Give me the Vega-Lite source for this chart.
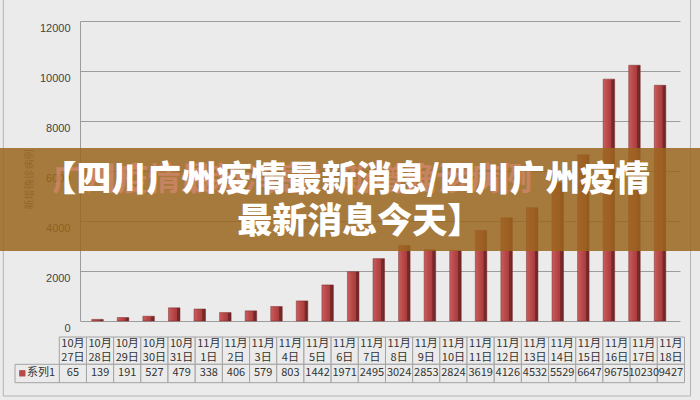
{
  "$schema": "https://vega.github.io/schema/vega-lite/v6.json",
  "autosize": "none",
  "width": 600,
  "height": 300,
  "padding": {"left": 80, "top": 21, "right": 20, "bottom": 79},
  "background": "#ebebeb",
  "config": {"view": {"stroke": null}, "font": "Noto Sans CJK SC"},
  "data": {"values": [
    {"date": "10月27日", "month": "10月", "day": "27日", "value": 65},
    {"date": "10月28日", "month": "10月", "day": "28日", "value": 139},
    {"date": "10月29日", "month": "10月", "day": "29日", "value": 191},
    {"date": "10月30日", "month": "10月", "day": "30日", "value": 527},
    {"date": "10月31日", "month": "10月", "day": "31日", "value": 479},
    {"date": "11月1日", "month": "11月", "day": "1日", "value": 338},
    {"date": "11月2日", "month": "11月", "day": "2日", "value": 406},
    {"date": "11月3日", "month": "11月", "day": "3日", "value": 579},
    {"date": "11月4日", "month": "11月", "day": "4日", "value": 803},
    {"date": "11月5日", "month": "11月", "day": "5日", "value": 1442},
    {"date": "11月6日", "month": "11月", "day": "6日", "value": 1971},
    {"date": "11月7日", "month": "11月", "day": "7日", "value": 2495},
    {"date": "11月8日", "month": "11月", "day": "8日", "value": 3024},
    {"date": "11月9日", "month": "11月", "day": "9日", "value": 2853},
    {"date": "11月10日", "month": "11月", "day": "10日", "value": 2824},
    {"date": "11月11日", "month": "11月", "day": "11日", "value": 3619},
    {"date": "11月12日", "month": "11月", "day": "12日", "value": 4126},
    {"date": "11月13日", "month": "11月", "day": "13日", "value": 4532},
    {"date": "11月14日", "month": "11月", "day": "14日", "value": 5529},
    {"date": "11月15日", "month": "11月", "day": "15日", "value": 6647},
    {"date": "11月16日", "month": "11月", "day": "16日", "value": 9675},
    {"date": "11月17日", "month": "11月", "day": "17日", "value": 10230},
    {"date": "11月18日", "month": "11月", "day": "18日", "value": 9427}
  ]},
  "resolve": {"scale": {"x": "independent"}},
  "layer": [
    {
      "mark": {
        "type": "bar",
        "fill": {"gradient": "linear", "x1": 0, "y1": 0, "x2": 1, "y2": 0, "stops": [
          {"offset": 0, "color": "#c95f5e"},
          {"offset": 0.35, "color": "#bb4a4a"},
          {"offset": 0.7, "color": "#a93d3e"},
          {"offset": 0.73, "color": "#7e2b2c"},
          {"offset": 1, "color": "#6c2425"}
        ]},
        "stroke": "#7a2a2b",
        "strokeWidth": 0.5
      },
      "encoding": {
        "x": {"field": "date", "type": "nominal", "sort": null, "axis": null,
          "scale": {"domain": ["10月27日","10月28日","10月29日","10月30日","10月31日","11月1日","11月2日","11月3日","11月4日","11月5日","11月6日","11月7日","11月8日","11月9日","11月10日","11月11日","11月12日","11月13日","11月14日","11月15日","11月16日","11月17日","11月18日"],
            "paddingInner": 0.55, "paddingOuter": 0.5075, "align": 0.453, "round": false}},
        "y": {"field": "value", "type": "quantitative",
          "scale": {"domain": [0, 12000], "nice": false, "zero": false},
          "axis": {"values": [0, 2000, 4000, 6000, 8000, 10000, 12000], "format": "d",
            "grid": true, "gridColor": "#9c9c9c", "gridWidth": 1,
            "domain": true, "domainColor": "#9c9c9c", "domainWidth": 1,
            "ticks": false, "labelPadding": 10, "labelOffset": 7,
            "labelFont": "Liberation Sans", "labelFontSize": 11, "labelColor": "#444444",
            "title": "新增确诊病例", "titleFont": "Noto Sans CJK SC", "titleFontSize": 10,
            "titleFontWeight": "normal", "titleColor": "#6b6b6b",
            "titleX": -51, "titleY": 158, "titleAlign": "center", "titleBaseline": "middle", "titleAngle": -90}}
      }
    },
    {
      "layer": [
        {
          "data": {"values": [{}]},
          "mark": {"type": "rect", "fill": "#ebebeb", "fillOpacity": 0, "stroke": "#b3b3b3", "strokeWidth": 1, "xOffset": -56, "x2Offset": 6},
          "encoding": {
            "x": {"datum": "10月27日", "type": "nominal", "bandPosition": 0, "axis": null,
              "scale": {"domain": ["10月27日","10月28日","10月29日","10月30日","10月31日","11月1日","11月2日","11月3日","11月4日","11月5日","11月6日","11月7日","11月8日","11月9日","11月10日","11月11日","11月12日","11月13日","11月14日","11月15日","11月16日","11月17日","11月18日"], "range": [-20.7, 604.5], "paddingInner": 0, "paddingOuter": 0, "round": false}},
            "x2": {"datum": "11月18日", "bandPosition": 1},
            "y": {"datum": 13040, "type": "quantitative"},
            "y2": {"datum": -3000}
          }
        },
        {
          "mark": {"type": "rect", "fill": "#ebebeb", "stroke": "#a3a3a3", "strokeWidth": 1},
          "encoding": {
            "x": {"field": "date", "type": "nominal", "sort": null, "axis": null,
              "scale": {"domain": ["10月27日","10月28日","10月29日","10月30日","10月31日","11月1日","11月2日","11月3日","11月4日","11月5日","11月6日","11月7日","11月8日","11月9日","11月10日","11月11日","11月12日","11月13日","11月14日","11月15日","11月16日","11月17日","11月18日"], "range": [-20.7, 604.5], "paddingInner": 0, "paddingOuter": 0, "round": false}},
            "y": {"datum": -640, "type": "quantitative"},
            "y2": {"datum": -1732}
          }
        },
        {
          "mark": {"type": "rect", "fill": "#ebebeb", "stroke": "#a3a3a3", "strokeWidth": 1},
          "encoding": {
            "x": {"field": "date", "type": "nominal", "sort": null, "axis": null,
              "scale": {"domain": ["10月27日","10月28日","10月29日","10月30日","10月31日","11月1日","11月2日","11月3日","11月4日","11月5日","11月6日","11月7日","11月8日","11月9日","11月10日","11月11日","11月12日","11月13日","11月14日","11月15日","11月16日","11月17日","11月18日"], "range": [-20.7, 604.5], "paddingInner": 0, "paddingOuter": 0, "round": false}},
            "y": {"datum": -1732, "type": "quantitative"},
            "y2": {"datum": -2468}
          }
        },
        {
          "data": {"values": [{}]},
          "mark": {"type": "rect", "fill": "#ebebeb", "stroke": "#a3a3a3", "strokeWidth": 1, "xOffset": -44.3},
          "encoding": {
            "x": {"datum": "10月27日", "type": "nominal", "bandPosition": 0, "axis": null,
              "scale": {"domain": ["10月27日","10月28日","10月29日","10月30日","10月31日","11月1日","11月2日","11月3日","11月4日","11月5日","11月6日","11月7日","11月8日","11月9日","11月10日","11月11日","11月12日","11月13日","11月14日","11月15日","11月16日","11月17日","11月18日"], "range": [-20.7, 604.5], "paddingInner": 0, "paddingOuter": 0, "round": false}},
            "x2": {"datum": "10月27日", "bandPosition": 0},
            "y": {"datum": -1732, "type": "quantitative"},
            "y2": {"datum": -2468}
          }
        },
        {
          "mark": {"type": "text", "fontSize": 11, "color": "#333333", "baseline": "middle"},
          "encoding": {
            "x": {"field": "date", "type": "nominal", "sort": null, "axis": null,
              "scale": {"domain": ["10月27日","10月28日","10月29日","10月30日","10月31日","11月1日","11月2日","11月3日","11月4日","11月5日","11月6日","11月7日","11月8日","11月9日","11月10日","11月11日","11月12日","11月13日","11月14日","11月15日","11月16日","11月17日","11月18日"], "range": [-20.7, 604.5], "paddingInner": 0, "paddingOuter": 0, "round": false}},
            "y": {"datum": -920, "type": "quantitative"},
            "text": {"field": "month", "type": "nominal"}
          }
        },
        {
          "mark": {"type": "text", "fontSize": 11, "color": "#333333", "baseline": "middle"},
          "encoding": {
            "x": {"field": "date", "type": "nominal", "sort": null, "axis": null,
              "scale": {"domain": ["10月27日","10月28日","10月29日","10月30日","10月31日","11月1日","11月2日","11月3日","11月4日","11月5日","11月6日","11月7日","11月8日","11月9日","11月10日","11月11日","11月12日","11月13日","11月14日","11月15日","11月16日","11月17日","11月18日"], "range": [-20.7, 604.5], "paddingInner": 0, "paddingOuter": 0, "round": false}},
            "y": {"datum": -1468, "type": "quantitative"},
            "text": {"field": "day", "type": "nominal"}
          }
        },
        {
          "mark": {"type": "text", "fontSize": 11, "color": "#333333", "baseline": "middle"},
          "encoding": {
            "x": {"field": "date", "type": "nominal", "sort": null, "axis": null,
              "scale": {"domain": ["10月27日","10月28日","10月29日","10月30日","10月31日","11月1日","11月2日","11月3日","11月4日","11月5日","11月6日","11月7日","11月8日","11月9日","11月10日","11月11日","11月12日","11月13日","11月14日","11月15日","11月16日","11月17日","11月18日"], "range": [-20.7, 604.5], "paddingInner": 0, "paddingOuter": 0, "round": false}},
            "y": {"datum": -2092, "type": "quantitative"},
            "text": {"field": "value", "type": "quantitative", "format": "d"}
          }
        },
        {
          "data": {"values": [{}]},
          "mark": {"type": "text", "fontSize": 11, "color": "#333333", "baseline": "middle", "align": "center", "dx": -18.3},
          "encoding": {
            "x": {"datum": "10月27日", "type": "nominal", "bandPosition": 0, "axis": null,
              "scale": {"domain": ["10月27日","10月28日","10月29日","10月30日","10月31日","11月1日","11月2日","11月3日","11月4日","11月5日","11月6日","11月7日","11月8日","11月9日","11月10日","11月11日","11月12日","11月13日","11月14日","11月15日","11月16日","11月17日","11月18日"], "range": [-20.7, 604.5], "paddingInner": 0, "paddingOuter": 0, "round": false}},
            "y": {"datum": -2092, "type": "quantitative"},
            "text": {"value": "系列1"}
          }
        },
        {
          "data": {"values": [{}]},
          "mark": {"type": "point", "shape": "square", "size": 40, "filled": true, "opacity": 1, "color": "#b94a4b", "xOffset": -37},
          "encoding": {
            "x": {"datum": "10月27日", "type": "nominal", "bandPosition": 0, "axis": null,
              "scale": {"domain": ["10月27日","10月28日","10月29日","10月30日","10月31日","11月1日","11月2日","11月3日","11月4日","11月5日","11月6日","11月7日","11月8日","11月9日","11月10日","11月11日","11月12日","11月13日","11月14日","11月15日","11月16日","11月17日","11月18日"], "range": [-20.7, 604.5], "paddingInner": 0, "paddingOuter": 0, "round": false}},
            "y": {"datum": -2092, "type": "quantitative"}
          }
        },
        {
          "data": {"values": [{}]},
          "mark": {"type": "rect", "fill": "#9a661d", "opacity": 0.85, "xOffset": -60, "x2Offset": 16},
          "encoding": {
            "x": {"datum": "10月27日", "type": "nominal", "bandPosition": 0, "axis": null,
              "scale": {"domain": ["10月27日","10月28日","10月29日","10月30日","10月31日","11月1日","11月2日","11月3日","11月4日","11月5日","11月6日","11月7日","11月8日","11月9日","11月10日","11月11日","11月12日","11月13日","11月14日","11月15日","11月16日","11月17日","11月18日"], "range": [-20.7, 604.5], "paddingInner": 0, "paddingOuter": 0, "round": false}},
            "x2": {"datum": "11月18日", "bandPosition": 1},
            "y": {"datum": 6920, "type": "quantitative"},
            "y2": {"datum": 2800}
          }
        },
        {
          "data": {"values": [{}]},
          "mark": {"type": "text", "fontSize": 32, "fontWeight": "bold", "color": "#e08a7a", "opacity": 0.6, "align": "left", "baseline": "middle", "dx": -7},
          "encoding": {
            "x": {"datum": "10月27日", "type": "nominal", "bandPosition": 0, "axis": null,
              "scale": {"domain": ["10月27日","10月28日","10月29日","10月30日","10月31日","11月1日","11月2日","11月3日","11月4日","11月5日","11月6日","11月7日","11月8日","11月9日","11月10日","11月11日","11月12日","11月13日","11月14日","11月15日","11月16日","11月17日","11月18日"], "range": [-20.7, 604.5], "paddingInner": 0, "paddingOuter": 0, "round": false}},
            "y": {"datum": 5640, "type": "quantitative"},
            "text": {"value": "广州疫情最新消息：新增确诊病例"}
          }
        },
        {
          "data": {"values": [{}]},
          "mark": {"type": "text", "fontSize": 35, "fontWeight": 900, "color": "#ffffff", "align": "center", "baseline": "middle", "dx": 1},
          "encoding": {
            "x": {"datum": "11月6日", "type": "nominal", "axis": null,
              "scale": {"domain": ["10月27日","10月28日","10月29日","10月30日","10月31日","11月1日","11月2日","11月3日","11月4日","11月5日","11月6日","11月7日","11月8日","11月9日","11月10日","11月11日","11月12日","11月13日","11月14日","11月15日","11月16日","11月17日","11月18日"], "range": [-20.7, 604.5], "paddingInner": 0, "paddingOuter": 0, "round": false}},
            "y": {"datum": 5640, "type": "quantitative"},
            "text": {"value": "【四川广州疫情最新消息/四川广州疫情"}
          }
        },
        {
          "data": {"values": [{}]},
          "mark": {"type": "text", "fontSize": 35, "fontWeight": 900, "color": "#ffffff", "align": "center", "baseline": "middle", "dx": 15},
          "encoding": {
            "x": {"datum": "11月6日", "type": "nominal", "axis": null,
              "scale": {"domain": ["10月27日","10月28日","10月29日","10月30日","10月31日","11月1日","11月2日","11月3日","11月4日","11月5日","11月6日","11月7日","11月8日","11月9日","11月10日","11月11日","11月12日","11月13日","11月14日","11月15日","11月16日","11月17日","11月18日"], "range": [-20.7, 604.5], "paddingInner": 0, "paddingOuter": 0, "round": false}},
            "y": {"datum": 3960, "type": "quantitative"},
            "text": {"value": "最新消息今天】"}
          }
        }
      ]
    }
  ]
}
